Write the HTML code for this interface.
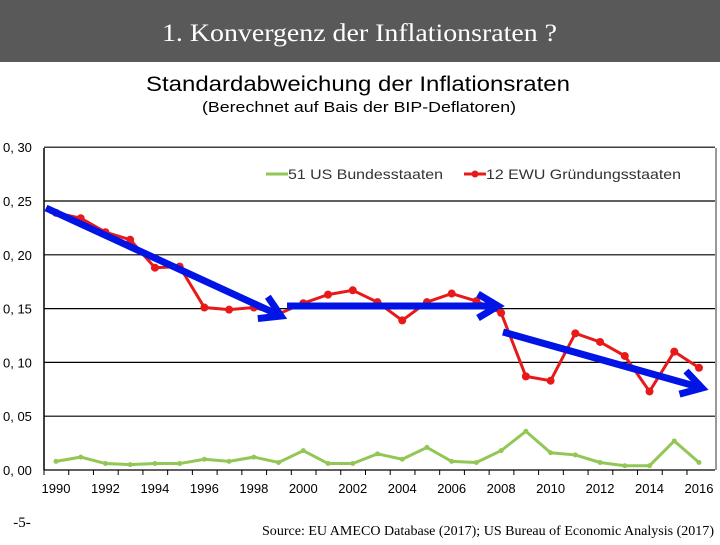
<!DOCTYPE html>
<html><head><meta charset="utf-8"><style>
body{margin:0;width:720px;height:540px;background:#fff;overflow:hidden;font-family:"Liberation Sans",sans-serif}
</style></head><body>
<svg width="720" height="540">
<rect x="0" y="0" width="720" height="62" fill="#595959"/>
<text x="162" y="41" fill="#fff" font-family="Liberation Serif" font-size="25" textLength="395" lengthAdjust="spacingAndGlyphs">1. Konvergenz der Inflationsraten ?</text>
<text x="146" y="91" font-size="21" textLength="424" lengthAdjust="spacingAndGlyphs">Standardabweichung der Inflationsraten</text>
<text x="202" y="112" font-size="15" textLength="314" lengthAdjust="spacingAndGlyphs">(Berechnet auf Bais der BIP-Deflatoren)</text>
<g id="grid"></g><g id="axes"></g><g id="series"></g>
<g>
<line x1="266" y1="174" x2="288" y2="174" stroke="#92C756" stroke-width="3"/>
<text x="288" y="179" font-size="14" fill="#333" textLength="155" lengthAdjust="spacingAndGlyphs">51 US Bundesstaaten</text>
<line x1="464" y1="174" x2="486" y2="174" stroke="#e81919" stroke-width="3"/><circle cx="475" cy="174" r="3.5" fill="#e81919"/>
<text x="486" y="179" font-size="14" fill="#333" textLength="195" lengthAdjust="spacingAndGlyphs">12 EWU Gründungsstaaten</text>
</g>
<g id="arrows"></g>
<text x="22" y="527" text-anchor="middle" font-family="Liberation Serif" font-size="15">-5-</text>
<text x="262" y="535" font-family="Liberation Serif" font-size="14" textLength="452" lengthAdjust="spacingAndGlyphs">Source: EU AMECO Database (2017); US Bureau of Economic Analysis (2017)</text>
</svg>
<script>
const years=[1990,1991,1992,1993,1994,1995,1996,1997,1998,1999,2000,2001,2002,2003,2004,2005,2006,2007,2008,2009,2010,2011,2012,2013,2014,2015,2016];
const ewu=[0.239,0.234,0.221,0.214,0.188,0.189,0.151,0.149,0.151,0.145,0.155,0.163,0.167,0.156,0.139,0.156,0.164,0.157,0.146,0.087,0.083,0.127,0.119,0.106,0.073,0.110,0.095];
const us=[0.008,0.012,0.006,0.005,0.006,0.006,0.010,0.008,0.012,0.007,0.018,0.006,0.006,0.015,0.010,0.021,0.008,0.007,0.018,0.036,0.016,0.014,0.007,0.004,0.004,0.027,0.007];
const yTicks=[0,0.05,0.10,0.15,0.20,0.25,0.30];
const xLabels=[1990,1992,1994,1996,1998,2000,2002,2004,2006,2008,2010,2012,2014,2016];
const NS='http://www.w3.org/2000/svg';
const X=y=>56+(y-1990)*24.73, Y=v=>470-v*1076;
function mk(t,a,p){const e=document.createElementNS(NS,t);for(const k in a)e.setAttribute(k,a[k]);p.appendChild(e);return e;}
const g=document.getElementById('grid'),ax=document.getElementById('axes'),s=document.getElementById('series'),ar=document.getElementById('arrows');
yTicks.forEach(v=>{
 const l=mk('line',{x1:44,x2:715,y1:Y(v),y2:Y(v),stroke:'#000','stroke-width':1.2},g);
 
 
 const t=mk('text',{x:3,y:Y(v)+5,'font-size':13},ax);t.textContent=v.toFixed(2).replace('.',', ');
 
 
});
mk('line',{x1:44,x2:44,y1:148,y2:470,stroke:'#000','stroke-width':1.5},ax);
mk('line',{x1:716,x2:716,y1:148,y2:470,stroke:'#999','stroke-width':2},ax);
years.forEach(y=>mk('line',{x1:X(y)-12,x2:X(y)-12,y1:470,y2:475,stroke:'#000'},ax));
xLabels.forEach(y=>{const t=mk('text',{x:X(y),y:493,'font-size':13,'text-anchor':'middle'},ax);t.textContent=y;
 
 });
function line(data,col,name){
 const p=mk('polyline',{points:data.map((v,i)=>X(years[i])+','+Y(v)).join(' '),fill:'none',stroke:col,'stroke-width':3},s);
 
 
 data.forEach((v,i)=>{const c=mk('circle',{cx:X(years[i]),cy:Y(v),r:name=='ewu'?4:2.5,fill:col},s);
  
  });
}
line(us,'#92C756','us');line(ewu,'#e81919','ewu');
function arrow(x1,y1,x2,y2){
 const a=Math.atan2(y2-y1,x2-x1),L=20,W=12;
 mk('line',{x1:x1,y1:y1,x2:x2-Math.cos(a)*4,y2:y2-Math.sin(a)*4,stroke:'#0014e6','stroke-width':7},ar);
 const pts=[[x2,y2],[x2-L*Math.cos(a)+W*Math.sin(a),y2-L*Math.sin(a)-W*Math.cos(a)],[x2-L*Math.cos(a)-W*Math.sin(a),y2-L*Math.sin(a)+W*Math.cos(a)]];
 const p=mk('polyline',{points:pts[1].join(',')+' '+pts[0].join(',')+' '+pts[2].join(','),fill:'none',stroke:'#0014e6','stroke-width':7,'stroke-linejoin':'miter'},ar);
 
 
}
arrow(46,208,281,316);arrow(287,306,498,306);arrow(503,332,702,388);
</script>
</body></html>
